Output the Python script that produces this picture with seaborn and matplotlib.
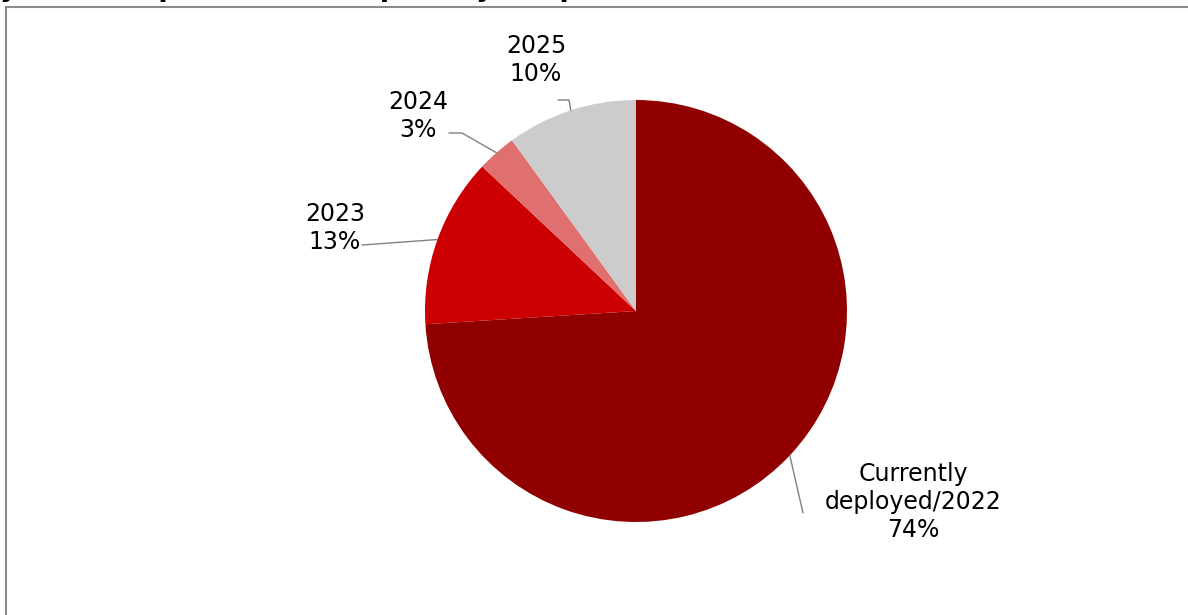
import matplotlib
matplotlib.use("Agg")
import matplotlib.pyplot as plt
import seaborn as sns
import numpy as np
from matplotlib.patches import Rectangle

categories = ["Currently\ndeployed/2022", "2023", "2024", "2025"]
values = [74, 13, 3, 10]
pct_labels = ["74%", "13%", "3%", "10%"]
colors = ["#900000", "#CC0000", "#E07070", "#CCCCCC"]
title = "your transport network (priority adopters)"

sns.set_theme(style="white")
plt.rcParams["font.family"] = ["DejaVu Sans"]

W, H = 1188, 615
fig = plt.figure(figsize=(W / 100, H / 100), dpi=100)
ax = fig.add_axes([0, 0, 1, 1])

# chart frame (partly cut off)
ax.add_patch(Rectangle((6, -50), W + 50, H - 7 + 50, fill=False,
                       edgecolor="#8a8a8a", linewidth=1.5, clip_on=True))

cx, cy, r = 636, H - 311, 211
wedges, _ = ax.pie(values, colors=colors, startangle=90, counterclock=False,
                   center=(cx, cy), radius=r, frame=True,
                   wedgeprops=dict(linewidth=0))
ax.set_xlim(0, W)
ax.set_ylim(0, H)
ax.set_aspect("equal")
ax.axis("off")

# label text positions (pixels, top-origin) and elbow points
text_pos = {0: (913, 502), 1: (335, 228), 2: (418, 116), 3: (536, 60)}
elbows = {0: [(803, 513)], 1: [(362, 245)], 2: [(449, 133), (462, 133)],
          3: [(558, 100), (569, 100)]}

for i, w in enumerate(wedges):
    mid = np.deg2rad((w.theta1 + w.theta2) / 2)
    ax_pt = (cx + r * np.cos(mid), cy + r * np.sin(mid))
    pts = [(x, H - y) for x, y in elbows[i]] + [ax_pt]
    xs, ys = zip(*pts)
    ax.plot(xs, ys, color="#808080", linewidth=1.0)
    tx, ty = text_pos[i]
    ax.text(tx, H - ty, f"{categories[i]}\n{pct_labels[i]}", ha="center",
            va="center", fontsize=17, color="black", linespacing=1.2)

fig.text(0 / W, 1 + 4 / H, title, ha="left", va="baseline",
         fontsize=19.5, fontweight="bold", color="black")

fig.savefig("out.png", dpi=100)
